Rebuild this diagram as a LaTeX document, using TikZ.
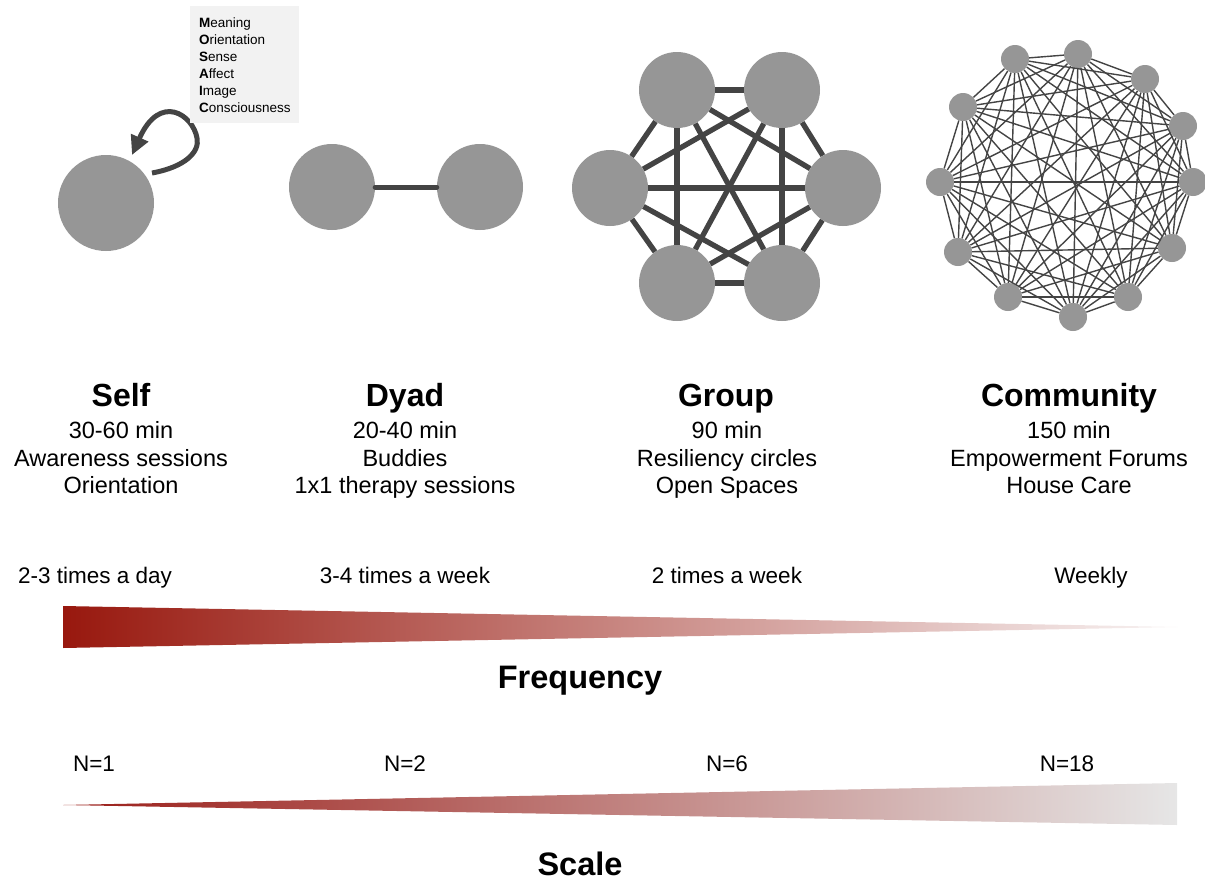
\documentclass[tikz,border=0pt]{standalone}
\usepackage{fontspec}
\setmainfont{Liberation Sans}
\usetikzlibrary{arrows.meta}
\definecolor{nodegray}{RGB}{150,150,150}
\definecolor{edgegray}{RGB}{68,68,68}
\definecolor{boxgray}{RGB}{242,242,242}
\definecolor{freqL}{RGB}{152,24,14}
\definecolor{freqR}{RGB}{248,244,244}
\definecolor{scaleL}{RGB}{155,30,25}
\definecolor{scaleR}{RGB}{230,230,230}
\begin{document}
\begin{tikzpicture}[x=1pt,y=-1pt,
  dot/.style={circle,fill=nodegray,inner sep=0pt,minimum size=#1},
  bond/.style={draw=edgegray,line width=5pt,line cap=round},
  grpbond/.style={draw=edgegray,line width=5.3pt},
  webline/.style={draw=edgegray,line width=1.4pt},
  loopline/.style={draw=edgegray,line width=5pt,-{Triangle[length=19pt,width=18pt]}},
  title/.style={anchor=base,font=\bfseries\fontsize{32}{38}\selectfont},
  body/.style={anchor=base,align=center,font=\fontsize{23.5}{27.5}\selectfont},
  lab/.style={anchor=base,font=\fontsize{22.5}{27}\selectfont},
  bigtitle/.style={anchor=base,font=\bfseries\fontsize{32.5}{38}\selectfont}
]
\useasboundingbox (0,0) rectangle (1205,881);

% ---- Self ----
\node[dot=96pt] (self) at (106,203) {};
\coordinate (loopstart) at (152,173);
\coordinate (loopend) at (132,155);
\draw[loopline] (loopstart) .. controls (185,167) and (200,152) .. (197,138)
   .. controls (193,115) and (160,92) .. (loopend);
\node[fill=boxgray,anchor=north west,inner xsep=9pt,inner ysep=0pt,
      minimum height=117pt,text width=91pt,align=left,
      font=\fontsize{13.5}{17}\selectfont] (mosaic) at (190,6)
  {\textbf{M}eaning\\\textbf{O}rientation\\\textbf{S}ense\\\textbf{A}ffect\\\textbf{I}mage\\\textbf{C}onsciousness};

% ---- Dyad ----
\node[dot=86pt] (d1) at (332,187) {};
\node[dot=86pt] (d2) at (480,187) {};
\draw[bond] (d1) -- (d2);

% ---- Group ----
\foreach \n/\x/\y in {1/677/90, 2/782/90, 3/843/188, 4/782/283, 5/677/283, 6/610/188}
  \node[dot=76pt] (g\n) at (\x,\y) {};
\foreach \i in {1,...,5}{
  \pgfmathtruncatemacro\k{\i+1}
  \foreach \j in {\k,...,6} \draw[grpbond] (g\i) -- (g\j);
}

% ---- Community ----
\foreach \n/\x/\y in {1/1015/59, 2/1078/54, 3/1145/79, 4/1183/126, 5/1193/182, 6/1172/248,
                      7/1128/297, 8/1073/317, 9/1008/297, 10/958/252, 11/940/182, 12/963/107}
  \node[dot=28pt] (c\n) at (\x,\y) {};
\foreach \i in {1,...,11}{
  \pgfmathtruncatemacro\k{\i+1}
  \foreach \j in {\k,...,12} \draw[webline] (c\i) -- (c\j);
}

% ---- Column texts ----
\node[title] (tself) at (121,406) {Self};
\node[title] (tdyad) at (405,406) {Dyad};
\node[title] (tgroup) at (726,406) {Group};
\node[title] (tcomm) at (1069,406) {Community};

\node[body] (bself) at (121,493.5) {30-60 min\\Awareness sessions\\Orientation};
\node[body] (bdyad) at (405,493.5) {20-40 min\\Buddies\\1x1 therapy sessions};
\node[body] (bgroup) at (727,493.5) {90 min\\Resiliency circles\\Open Spaces};
\node[body] (bcomm) at (1069,493.5) {150 min\\Empowerment Forums\\House Care};

% ---- Frequency ----
\node[lab] (f1) at (95,583) {2-3 times a day};
\node[lab] (f2) at (405,583) {3-4 times a week};
\node[lab] (f3) at (727,583) {2 times a week};
\node[lab] (f4) at (1091,583) {Weekly};
\shade[left color=freqL,right color=freqR] (63,606) -- (1178,627) -- (63,648) -- cycle;
\node[bigtitle] (freq) at (580,688) {Frequency};

% ---- Scale ----
\node[lab] (n1) at (94,771) {N=1};
\node[lab] (n2) at (405,771) {N=2};
\node[lab] (n3) at (727,771) {N=6};
\node[lab] (n4) at (1067,771) {N=18};
\shade[left color=scaleL,right color=scaleR] (63,805) -- (1177,783) -- (1177,825) -- cycle;
\node[bigtitle] (scale) at (580,875) {Scale};
\end{tikzpicture}
\end{document}
